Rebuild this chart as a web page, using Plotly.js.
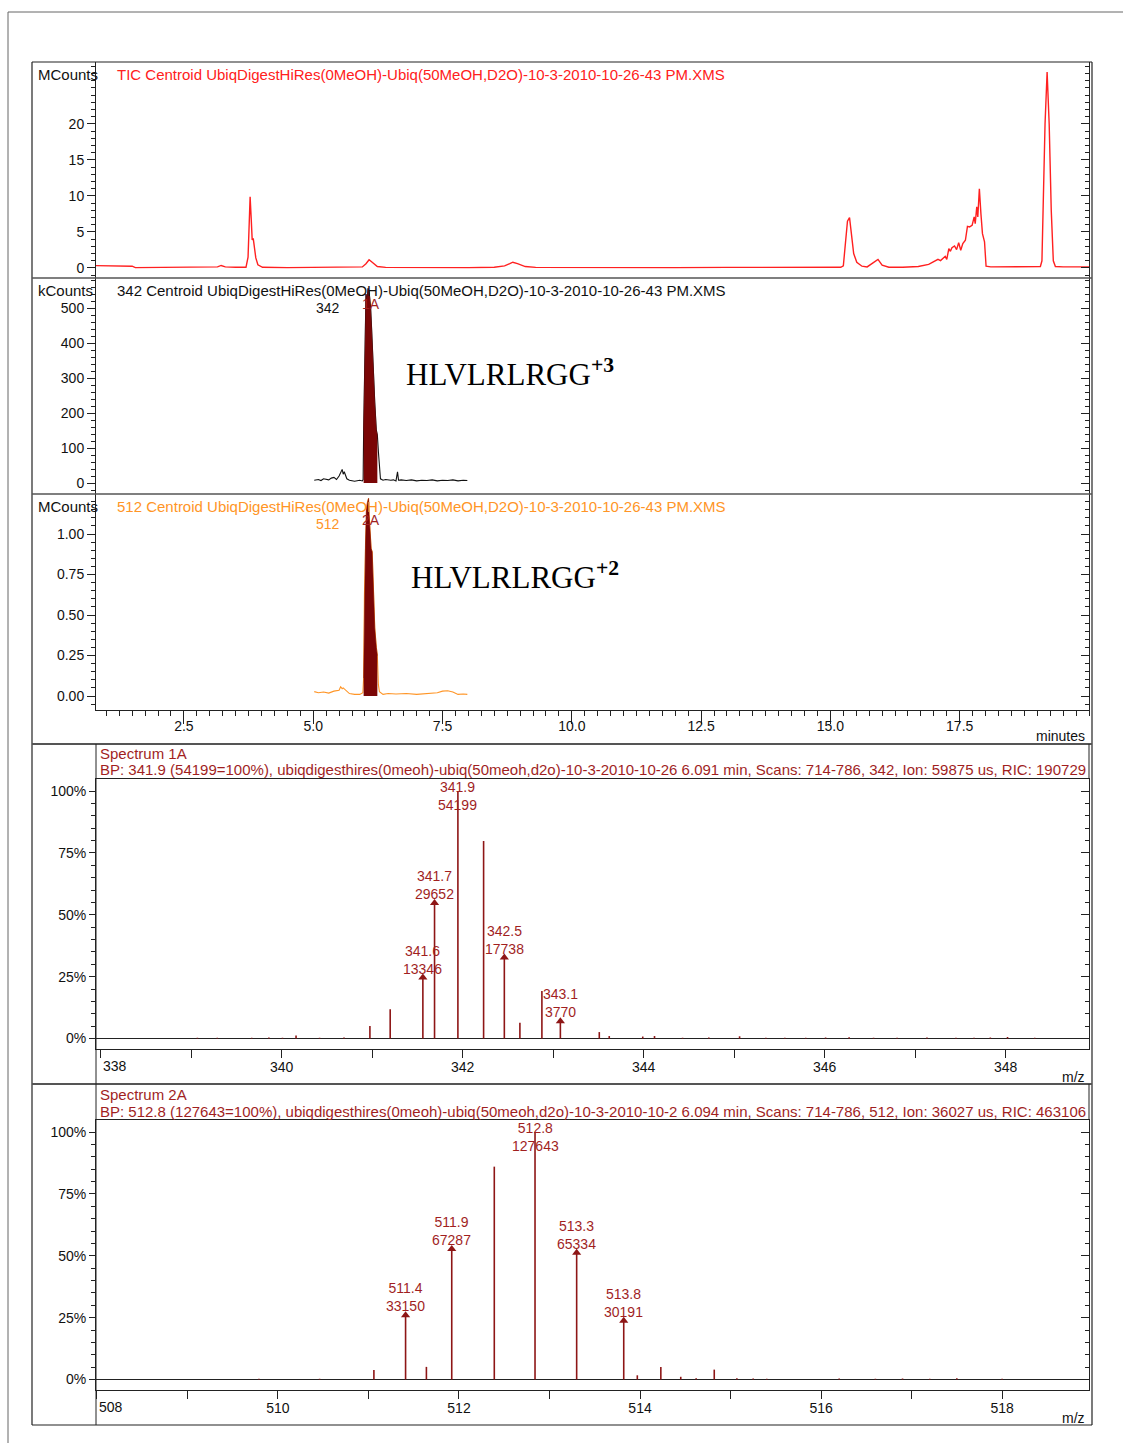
<!DOCTYPE html>
<html><head><meta charset="utf-8">
<script src="https://cdn.plot.ly/plotly-3.0.1.min.js"></script>
<style>html,body{margin:0;padding:0;background:#fff}#chart{width:1123px;height:1443px}</style>
</head><body><div id="chart"></div>
<script>
// ---------------- DATA ----------------
// TIC chromatogram (minutes, MCounts)
const ticTime = [0.80,1.45,1.50,1.56,2.0,2.5,3.0,3.15,3.22,3.30,3.5,3.70,3.74,3.78,3.80,3.82,3.84,3.86,3.89,3.93,4.02,4.5,5.0,5.5,5.95,6.02,6.08,6.14,6.24,6.4,7.0,7.5,8.0,8.5,8.70,8.80,8.86,8.95,9.10,9.3,10,11,12,13,14,14.8,15.1,15.2,15.25,15.29,15.33,15.37,15.41,15.45,15.51,15.61,15.71,15.84,15.92,16.0,16.13,16.4,16.7,16.9,17.03,17.08,17.13,17.17,17.22,17.25,17.29,17.32,17.35,17.40,17.44,17.48,17.52,17.56,17.61,17.65,17.69,17.74,17.78,17.80,17.83,17.85,17.88,17.91,17.94,17.98,18.01,18.1,18.5,18.9,19.06,19.09,19.12,19.15,19.19,19.23,19.27,19.31,19.35,19.5,20.0];
const ticMCounts = [0.33,0.33,0.25,0.05,0.05,0.05,0.08,0.15,0.35,0.15,0.1,0.1,1.5,9.9,7.0,3.9,4.1,2.8,1.4,0.45,0.1,0.05,0.05,0.05,0.15,0.6,1.15,0.8,0.2,0.08,0.05,0.05,0.05,0.1,0.3,0.6,0.8,0.6,0.2,0.08,0.05,0.05,0.05,0.08,0.1,0.15,0.2,0.1,0.3,3.8,6.5,7.0,4.3,2.0,0.8,0.25,0.15,0.8,1.2,0.4,0.1,0.1,0.2,0.5,1.1,1.21,1.03,1.3,1.62,1.2,2.69,2.32,2.83,3.06,2.55,3.52,2.46,3.38,3.85,5.79,5.7,5.93,7.09,6.16,8.48,7.09,11.0,7.55,4.77,3.62,0.24,0.15,0.2,0.15,0.2,1.0,10.0,20.0,27.2,20.0,8.0,1.0,0.2,0.15,0.15];

// m/z 342 extracted chromatogram (minutes, kCounts)
const eic342Time = [5.02,5.1,5.15,5.2,5.3,5.35,5.4,5.45,5.5,5.53,5.56,5.58,5.6,5.65,5.7,5.8,5.9,5.95,5.965,5.975,5.99,6.0,6.02,6.04,6.06,6.08,6.09,6.11,6.13,6.15,6.17,6.19,6.22,6.24,6.26,6.28,6.3,6.35,6.4,6.5,6.55,6.6,6.63,6.65,6.7,6.8,6.9,7.0,7.1,7.2,7.3,7.4,7.5,7.6,7.7,7.8,7.9,7.98];
const eic342kCounts = [8,10,7,12,9,14,16,10,20,28,39,25,32,12,8,5,8,6,10,150,300,456,540,520,556,548,530,500,437,360,294,230,151,137,90,29,12,8,10,8,9,6,32,8,9,7,9,6,8,7,9,6,8,7,9,6,8,7];

// m/z 512 extracted chromatogram (minutes, MCounts)
const eic512Time = [5.02,5.1,5.2,5.3,5.4,5.5,5.53,5.56,5.58,5.62,5.7,5.8,5.9,5.96,5.975,5.99,6.01,6.03,6.05,6.07,6.08,6.10,6.12,6.14,6.17,6.19,6.22,6.24,6.26,6.28,6.35,6.45,6.6,6.8,7.0,7.2,7.4,7.5,7.6,7.7,7.8,7.9,7.98];
const eic512MCounts = [0.027,0.02,0.025,0.018,0.03,0.035,0.057,0.045,0.05,0.04,0.015,0.01,0.01,0.02,0.11,0.62,0.93,1.16,1.2,1.22,1.12,1.04,0.91,0.89,0.56,0.42,0.3,0.25,0.07,0.027,0.01,0.015,0.012,0.015,0.01,0.015,0.02,0.03,0.032,0.025,0.01,0.012,0.01];

// integration window of the averaged scans (minutes)
const integWindow = [5.97, 6.24];

// Spectrum 1A (m/z, % of base peak, label, counts)
const spec1Mz  = [339.07,339.29,339.67,339.86,340.01,340.16,340.42,340.69,340.976,341.20,341.561,341.69,341.948,342.232,342.461,342.633,342.876,343.08,343.51,343.62,343.99,344.12,344.43,344.72,345.06,345.35,345.56,345.79,346.01,346.27,346.54,346.80,347.13,347.45,347.65,347.83,348.02,348.32];
const spec1Pct = [0.3,0.3,0.3,0.4,0.3,1.2,0.3,0.4,5.1,11.8,24.6,54.7,100,79.8,32.7,6.4,19.2,7.0,2.6,1.0,0.8,1.0,0.3,0.4,0.9,0.3,0.3,0.3,0.4,0.5,0.3,0.3,0.4,0.3,0.3,0.4,0.6,0.3];
const spec1Tag = {341.561:['341.6','13346'],341.69:['341.7','29652'],341.948:['341.9','54199'],342.461:['342.5','17738'],343.08:['343.1','3770']};

// Spectrum 2A
const spec2Mz  = [509.79,510.46,511.06,511.41,511.64,511.92,512.39,512.84,513.30,513.82,513.97,514.23,514.45,514.62,514.82,515.07,515.25,515.40,516.20,516.60,516.90,517.20,517.50,518.00];
const spec2Pct = [0.3,0.3,3.8,26.0,5.1,52.7,86.0,100,51.2,23.7,1.7,5.1,1.1,0.5,4.0,0.5,0.4,0.3,0.4,0.3,0.4,0.3,0.5,0.3];
const spec2Tag = {511.41:['511.4','33150'],511.92:['511.9','67287'],512.84:['512.8','127643'],513.30:['513.3','65334'],513.82:['513.8','30191']};

// Tick labels / texts
const timeTicks = [2.5,5.0,7.5,10.0,12.5,15.0,17.5];
const ticTicks = [0,5,10,15,20];
const eic342Ticks = [0,100,200,300,400,500];
const eic512Ticks = [0,0.25,0.5,0.75,1.0];
const pctTicks = [0,25,50,75,100];
const spec1Ticks = [338,339,340,341,342,343,344,345,346,347,348];
const spec2Ticks = [508,509,510,511,512,513,514,515,516,517,518];
const ticTitle = 'TIC Centroid UbiqDigestHiRes(0MeOH)-Ubiq(50MeOH,D2O)-10-3-2010-10-26-43 PM.XMS';
const eic342Title = '342 Centroid UbiqDigestHiRes(0MeOH)-Ubiq(50MeOH,D2O)-10-3-2010-10-26-43 PM.XMS';
const eic512Title = '512 Centroid UbiqDigestHiRes(0MeOH)-Ubiq(50MeOH,D2O)-10-3-2010-10-26-43 PM.XMS';
const spec1Head = ['Spectrum 1A','BP: 341.9 (54199=100%), ubiqdigesthires(0meoh)-ubiq(50meoh,d2o)-10-3-2010-10-26 6.091 min, Scans: 714-786, 342, Ion: 59875 us, RIC: 190729'];
const spec2Head = ['Spectrum 2A','BP: 512.8 (127643=100%), ubiqdigesthires(0meoh)-ubiq(50meoh,d2o)-10-3-2010-10-2 6.094 min, Scans: 714-786, 512, Ion: 36027 us, RIC: 463106'];
const peptide3 = 'HLVLRLRGG<sup><b>+3</b></sup>';
const peptide2 = 'HLVLRLRGG<sup><b>+2</b></sup>';

// ---------------- BUILD ----------------
const W = 1123, H = 1443;
const px = v => v / W, py = v => 1 - v / H;
const FONT = 'Liberation Sans, Arial, sans-serif';
const RED = '#ff2020', ORANGE = '#ff9526', MAROON = '#7a0606', SPEC = '#8e1616', SPECTXT = '#a11f1f';

function windowed(t, v) {
  const xs = [], ys = [];
  t.forEach((ti, i) => { if (ti >= integWindow[0] && ti <= integWindow[1]) { xs.push(ti); ys.push(v[i]); } });
  return {xs, ys};
}
function sticks(mz, pct) {
  const xs = [], ys = [];
  mz.forEach((m, i) => { xs.push(m, m, null); ys.push(0, pct[i], null); });
  return {xs, ys};
}

const traces = [];
traces.push({x: ticTime, y: ticMCounts, xaxis: 'x', yaxis: 'y', type: 'scatter', mode: 'lines', line: {color: RED, width: 1.4}, hoverinfo: 'skip'});
traces.push({x: eic342Time, y: eic342kCounts, xaxis: 'x', yaxis: 'y2', type: 'scatter', mode: 'lines', line: {color: '#111', width: 1.1}, hoverinfo: 'skip'});
const w342 = windowed(eic342Time, eic342kCounts);
traces.push({x: w342.xs, y: w342.ys, xaxis: 'x', yaxis: 'y2', type: 'scatter', mode: 'lines', fill: 'tozeroy', fillcolor: MAROON, line: {color: MAROON, width: 0.5}, hoverinfo: 'skip'});
traces.push({x: eic512Time, y: eic512MCounts, xaxis: 'x', yaxis: 'y3', type: 'scatter', mode: 'lines', line: {color: ORANGE, width: 1.1}, hoverinfo: 'skip'});
const w512 = windowed(eic512Time, eic512MCounts);
traces.push({x: w512.xs, y: w512.ys, xaxis: 'x', yaxis: 'y3', type: 'scatter', mode: 'lines', fill: 'tozeroy', fillcolor: MAROON, line: {color: MAROON, width: 0.5}, hoverinfo: 'skip'});

const s1 = sticks(spec1Mz, spec1Pct), s2 = sticks(spec2Mz, spec2Pct);
traces.push({x: s1.xs, y: s1.ys, xaxis: 'x2', yaxis: 'y4', type: 'scatter', mode: 'lines', line: {color: SPEC, width: 1.6}, hoverinfo: 'skip'});
traces.push({x: s2.xs, y: s2.ys, xaxis: 'x3', yaxis: 'y5', type: 'scatter', mode: 'lines', line: {color: SPEC, width: 1.6}, hoverinfo: 'skip'});

const annotations = [];
function tagPeaks(mz, pct, tags, xr, yr, ymax) {
  const ax = [], ay = [];
  mz.forEach((m, i) => {
    const t = tags[m];
    if (!t) return;
    if (pct[i] < 90) { ax.push(m); ay.push(pct[i]); }
    const top = pct[i] + 14 > ymax;
    annotations.push({x: m, y: top ? ymax : pct[i], xref: xr, yref: yr, text: t[0] + '<br>' + t[1], showarrow: false,
      xanchor: 'center', yanchor: top ? 'top' : 'bottom', yshift: top ? 2 : -1, align: 'center',
      font: {family: FONT, size: 14, color: SPECTXT}});
  });
  traces.push({x: ax, y: ay, xaxis: xr, yaxis: yr, type: 'scatter', mode: 'markers',
    marker: {symbol: 'triangle-up', size: 8, color: SPEC}, hoverinfo: 'skip'});
}
const pctRange = [-4.24, 104.85];
tagPeaks(spec1Mz, spec1Pct, spec1Tag, 'x2', 'y4', pctRange[1]);
tagPeaks(spec2Mz, spec2Pct, spec2Tag, 'x3', 'y5', pctRange[1]);

// empty traces so the mirrored (right) axes are drawn
['y6','y7','y8','y9','y10'].forEach((ya, k) => {
  traces.push({x: [], y: [], xaxis: k < 3 ? 'x' : (k === 3 ? 'x2' : 'x3'), yaxis: ya, type: 'scatter', mode: 'lines', hoverinfo: 'skip', showlegend: false});
});

const tickFont = {family: FONT, size: 14, color: '#111'};
function yAx(dom, range, tickvals, minorD, extra) {
  return Object.assign({domain: dom, range: range, anchor: 'x', tickvals: tickvals, ticks: 'outside', ticklen: 8, tickwidth: 1, tickcolor: '#222',
    minor: {dtick: minorD, ticks: 'outside', ticklen: 4, tickcolor: '#222', tickwidth: 1}, showline: true, linecolor: '#222', linewidth: 1,
    showgrid: false, zeroline: false, tickfont: tickFont, fixedrange: true}, extra || {});
}
function yMirror(over, base) {
  return {overlaying: over, side: 'right', anchor: base.anchor, range: base.range, tickvals: base.tickvals, ticks: 'inside', ticklen: 8, tickcolor: '#222',
    minor: {dtick: base.minor.dtick, ticks: 'inside', ticklen: 4, tickcolor: '#222'}, showticklabels: false, showline: true, linecolor: '#222', linewidth: 1,
    showgrid: false, zeroline: false};
}

const yTic = yAx([py(278), py(62)], [-1.39, 28.6], ticTicks, 1);
const y342 = yAx([py(494), py(278)], [-31.4, 585.7], eic342Ticks, 20);
const y512 = yAx([py(710), py(494)], [-0.0864, 1.247], eic512Ticks, 0.05, {tickformat: '.2f'});
const ySp1 = yAx([py(1049), py(779)], pctRange, pctTicks, 5, {anchor: 'x2', ticktext: pctTicks.map(v => v + '%'), zeroline: true, zerolinecolor: '#222', zerolinewidth: 1.5, ticklen: 6});
const ySp2 = yAx([py(1390), py(1120)], pctRange, pctTicks, 5, {anchor: 'x3', ticktext: pctTicks.map(v => v + '%'), zeroline: true, zerolinecolor: '#222', zerolinewidth: 1.5, ticklen: 6});

function mzAx(dom, anchor, range, ticks) {
  return {domain: dom, anchor: anchor, range: range, tickvals: ticks, ticktext: ticks.map((v, i) => (i > 0 && v % 2 === 0) ? String(v) : ' '),
    ticks: 'outside', ticklen: 8, tickcolor: '#222', showline: true, mirror: true, linecolor: '#222', linewidth: 1,
    showgrid: false, zeroline: false, tickfont: tickFont, ticklabelstandoff: -3, fixedrange: true};
}

const layout = {
  width: W, height: H, margin: {l: 0, r: 0, t: 0, b: 0}, paper_bgcolor: '#fff', plot_bgcolor: 'rgba(0,0,0,0)', showlegend: false,
  font: {family: FONT},
  xaxis: {domain: [px(96), px(1089)], range: [0.8, 20], anchor: 'y3', tickvals: timeTicks, tickformat: '.1f', ticks: 'outside', ticklen: 13, tickcolor: '#222',
    minor: {dtick: 0.25, ticks: 'outside', ticklen: 5, tickcolor: '#222'}, showline: true, linecolor: '#222', linewidth: 1, showgrid: false, zeroline: false,
    tickfont: tickFont, ticklabelstandoff: -10, fixedrange: true},
  xaxis2: mzAx([px(96), px(1089)], 'y4', [337.95, 348.92], spec1Ticks),
  xaxis3: mzAx([px(96), px(1089)], 'y5', [507.99, 518.96], spec2Ticks),
  yaxis: yTic, yaxis2: y342, yaxis3: y512, yaxis4: ySp1, yaxis5: ySp2,
  yaxis6: yMirror('y', yTic), yaxis7: yMirror('y2', y342), yaxis8: yMirror('y3', y512),
  yaxis9: yMirror('y4', ySp1), yaxis10: yMirror('y5', ySp2),
  annotations: annotations,
  shapes: []
};

// frame and separator lines
const L = (x0, y0, x1, y1, c, w) => layout.shapes.push({type: 'line', xref: 'paper', yref: 'paper', x0: px(x0), y0: py(y0), x1: px(x1), y1: py(y1), line: {color: c, width: w}});
L(8, 12, 1123, 12, '#666', 1); L(8, 12, 8, 1443, '#666', 1);
L(32, 62, 1092, 62, '#222', 1.2); L(32, 1425, 1092, 1425, '#222', 1.2); L(32, 62, 32, 1425, '#222', 1.2); L(1092, 62, 1092, 1425, '#222', 1.2);
L(32, 278, 1092, 278, '#555', 1.5); L(32, 494, 1092, 494, '#555', 1.5); L(32, 744, 1092, 744, '#555', 1.8); L(32, 1084, 1092, 1084, '#555', 1.8);
L(96, 744, 96, 1084, '#222', 1); L(1089, 744, 1089, 779, '#222', 1);
L(96, 1084, 96, 1425, '#222', 1); L(1089, 1084, 1089, 1120, '#222', 1);

// text annotations
const A = (x, y, text, opts) => annotations.push(Object.assign({xref: 'paper', yref: 'paper', x: px(x), y: py(y), text: text, showarrow: false,
  xanchor: 'left', yanchor: 'middle', font: {family: FONT, size: 15, color: '#111'}}, opts || {}));
A(36, 75, 'MCounts'); A(115, 75, ticTitle, {font: {family: FONT, size: 15, color: RED}});
A(36, 291, 'kCounts'); A(115, 291, eic342Title);
A(36, 507, 'MCounts'); A(115, 507, eic512Title, {font: {family: FONT, size: 15, color: ORANGE}});
A(328, 308, '342', {xanchor: 'center', font: {family: FONT, size: 14, color: '#111'}});
A(328, 524, '512', {xanchor: 'center', font: {family: FONT, size: 14, color: ORANGE}});
A(371, 304, '1A', {xanchor: 'center', font: {family: FONT, size: 14, color: SPECTXT}});
A(371, 520, '2A', {xanchor: 'center', font: {family: FONT, size: 14, color: SPECTXT}});
A(404, 373, peptide3, {font: {family: 'Liberation Serif, Times New Roman, serif', size: 31, color: '#000'}});
A(409, 575, peptide2, {font: {family: 'Liberation Serif, Times New Roman, serif', size: 31, color: '#000'}});
A(1087, 736, 'minutes', {xanchor: 'right', font: {family: FONT, size: 14, color: '#111'}});
A(98, 753, spec1Head[0], {font: {family: FONT, size: 15, color: SPECTXT}});
A(98, 770, spec1Head[1], {font: {family: FONT, size: 15, color: SPECTXT}});
A(98, 1094, spec2Head[0], {font: {family: FONT, size: 15, color: SPECTXT}});
A(98, 1111, spec2Head[1], {font: {family: FONT, size: 15, color: SPECTXT}});
A(1087, 1077, 'm/z', {xanchor: 'right', font: {family: FONT, size: 14, color: '#111'}});
A(1087, 1418, 'm/z', {xanchor: 'right', font: {family: FONT, size: 14, color: '#111'}});
// first (edge) tick labels drawn left-aligned like the original
annotations.push({xref: 'x2', yref: 'paper', x: spec1Ticks[0], y: py(1066), text: String(spec1Ticks[0]), showarrow: false, xanchor: 'left', yanchor: 'middle', font: tickFont});
annotations.push({xref: 'x3', yref: 'paper', x: spec2Ticks[0], y: py(1407), text: String(spec2Ticks[0]), showarrow: false, xanchor: 'left', yanchor: 'middle', font: tickFont});

Plotly.newPlot('chart', traces, layout, {staticPlot: true, displayModeBar: false});
</script>
</body></html>
